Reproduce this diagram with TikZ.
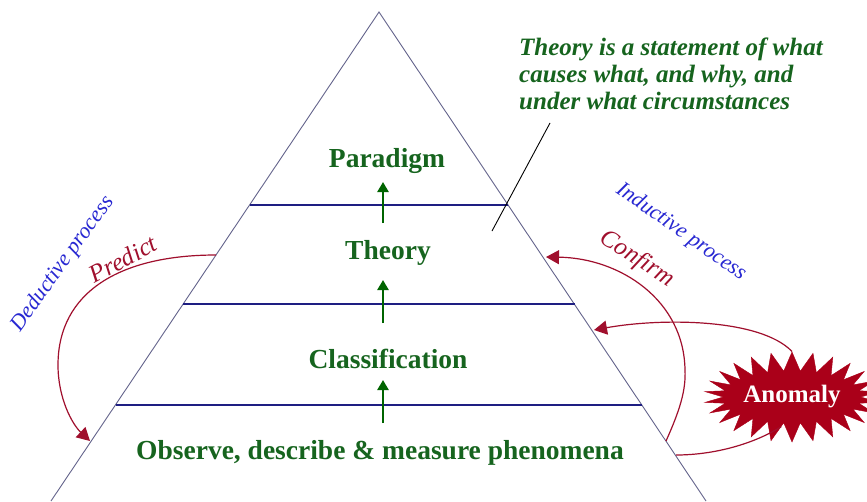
\documentclass[tikz,border=0pt]{standalone}
\usepackage{fontspec}
\setmainfont{Liberation Serif}
\usetikzlibrary{arrows.meta,shapes.symbols}
\definecolor{lvlgreen}{RGB}{22,100,30}
\definecolor{arrgreen}{RGB}{0,100,0}
\definecolor{navy}{RGB}{30,30,130}
\definecolor{sidecol}{RGB}{100,100,140}
\definecolor{darkred}{RGB}{160,15,45}
\definecolor{anomred}{RGB}{170,0,25}
\definecolor{procblue}{RGB}{40,40,210}
\begin{document}
\begin{tikzpicture}[x=1pt,y=-1pt,
  side/.style={draw=sidecol, line width=0.9pt},
  tier/.style={draw=navy, line width=1.3pt},
  lvl/.style={font=\fontsize{27.5}{30}\selectfont\bfseries, text=lvlgreen, inner sep=0pt},
  uparrow/.style={draw=arrgreen, line width=2.4pt, -{Triangle[length=10pt,width=11pt]}},
  proc/.style={font=\fontsize{22}{24}\selectfont\itshape, text=procblue, inner sep=0pt},
  redlab/.style={font=\fontsize{25}{27}\selectfont\itshape, text=darkred, inner sep=0pt},
  redarc/.style={draw=darkred, line width=1.2pt},
  redarrow/.style={redarc, -{Triangle[length=13pt,width=14pt]}},
  note/.style={font=\fontsize{25}{27}\selectfont\bfseries\itshape, text=lvlgreen, align=left, inner sep=0pt}
]
\useasboundingbox (0,0) rectangle (867,501);
\fill[white] (0,0) rectangle (867,501);

% pyramid
\coordinate (apex) at (379,12);
\coordinate (bl) at (51,501);
\coordinate (br) at (706,501);
\draw[side] (bl) -- (apex) -- (br);

% tier lines
\coordinate (t1l) at (249.5,205); \coordinate (t1r) at (508,205);
\coordinate (t2l) at (183,304);   \coordinate (t2r) at (574.5,304);
\coordinate (t3l) at (115.5,405); \coordinate (t3r) at (642,405);
\draw[tier] (t1l) -- (t1r);
\draw[tier] (t2l) -- (t2r);
\draw[tier] (t3l) -- (t3r);

% level labels
\node[lvl] (par) at (387,161) {Paradigm};
\node[lvl] (the) at (388,253) {Theory};
\node[lvl] (cla) at (388,359) {Classification};
\node[lvl] (obs) at (380,453) {Observe, describe \& measure phenomena};

% green arrows
\coordinate (a1b) at (383,223); \coordinate (a1t) at (383,182);
\coordinate (a2b) at (383,323); \coordinate (a2t) at (383,280);
\coordinate (a3b) at (383,423); \coordinate (a3t) at (383,380);
\draw[uparrow] (a1b) -- (a1t);
\draw[uparrow] (a2b) -- (a2t);
\draw[uparrow] (a3b) -- (a3t);

% note
\node[note, anchor=north west] (note) at (519,38) {Theory is a statement of what\\causes what, and why, and\\under what circumstances};
\coordinate (nla) at (550,123);
\coordinate (nlb) at (492,231);
\draw[black, line width=0.9pt] (nla) -- (nlb);

% process labels
\node[proc, rotate=54.5] (ded) at (63,264) {Deductive process};
\node[proc, rotate=-35] (ind) at (681,232) {Inductive process};

% predict
\coordinate (ps) at (216,255);
\coordinate (pe) at (90,441);
\draw[redarrow] (ps) .. controls (120,255) and (58,292) .. (58,365) .. controls (58,398) and (72,424) .. (pe);
\node[redlab, rotate=28] (pred) at (123,259) {Predict};

% confirm
\coordinate (cs) at (666,441);
\coordinate (ce) at (546,257);
\draw[redarrow] (cs) .. controls (680,410) and (686,390) .. (685,370) .. controls (684,300) and (620,258) .. (ce);
\node[redlab, rotate=-33] (conf) at (637,259) {Confirm};

% anomaly
\node[starburst, starburst points=26, starburst point height=19pt, random starburst=0,
      fill=anomred, draw=anomred, minimum width=150pt, minimum height=90pt, inner sep=0pt,
      font=\fontsize{25}{27}\selectfont\bfseries, text=white] (anom) at (792,397) {Anomaly};
\coordinate (an1) at (594,330);
\draw[redarrow] (anom.north) .. controls (760,318) and (660,318) .. (an1);
\coordinate (an2) at (676,455);
\draw[redarc] (an2) .. controls (710,455) and (750,446) .. (anom.250);
\end{tikzpicture}
\end{document}
